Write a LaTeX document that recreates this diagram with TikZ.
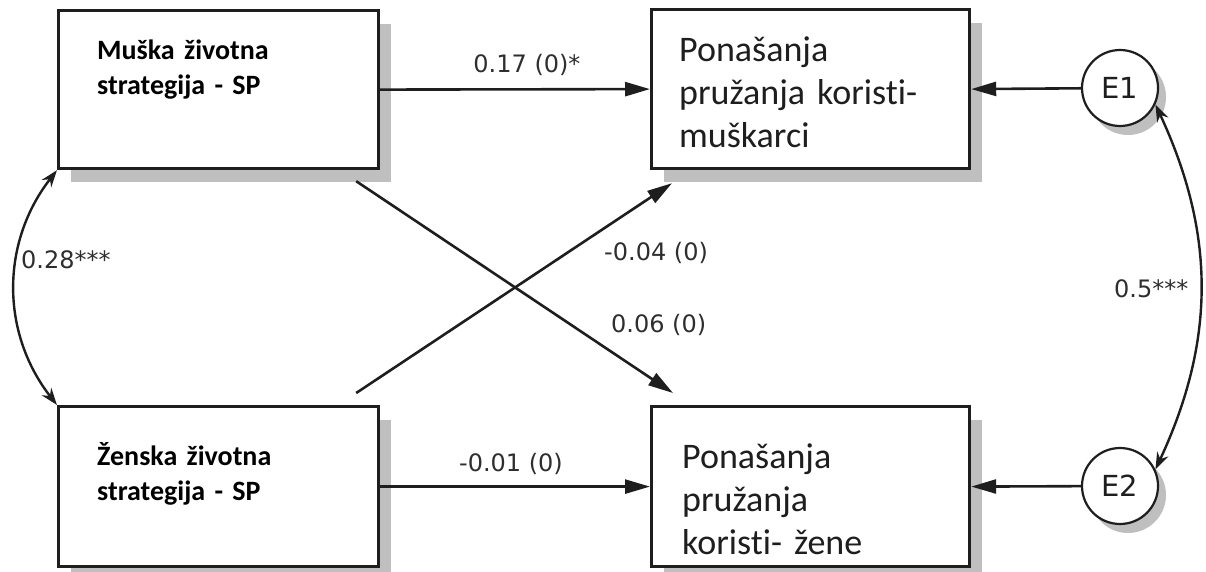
\documentclass[tikz,border=0pt]{standalone}
\usepackage{fontspec}
\setmainfont{Carlito}[Ligatures=NoCommon]
\newfontfamily\lblfont{DejaVu Sans}
\usetikzlibrary{arrows.meta,shadows,calc}
\definecolor{ink}{HTML}{1E1E1E}
\definecolor{lblc}{HTML}{2E2E2E}
\begin{document}
\begin{tikzpicture}[x=1pt,y=-1pt,
  box/.style={draw=ink, line width=3.2pt, fill=white, inner sep=0pt, anchor=north west,
    drop shadow={shadow xshift=12pt, shadow yshift=-13pt, fill=black!25, opacity=1}},
  err/.style={circle, draw=ink, line width=2.2pt, fill=white, minimum size=76pt, inner sep=0pt,
    font=\lblfont\fontsize{29}{32}\selectfont, text=ink,
    drop shadow={shadow xshift=8pt, shadow yshift=-9pt, fill=black!25, opacity=1}},
  srctext/.style={anchor=base west, inner sep=0pt, text width=270pt, align=left, text=black,
    font=\bfseries\fontsize{28}{35}\selectfont},
  dsttext/.style={anchor=base west, inner sep=0pt, text width=285pt, align=left, text=ink,
    font=\fontsize{36}{43}\selectfont},
  lbl/.style={inner sep=0pt, text=lblc, font=\lblfont\fontsize{24}{27}\selectfont},
  arr/.style={draw=ink, line width=2.6pt, -{Triangle[length=25pt,width=14pt]}},
  dbl/.style={draw=ink, line width=2.4pt, {Stealth[length=17pt,width=12pt]}-{Stealth[length=17pt,width=12pt]}}
]
\useasboundingbox (0,0) rectangle (1206,572);

% boxes
\node[box, minimum width=320pt, minimum height=158pt] (A) at (57,9) {};
\node[box, minimum width=318pt, minimum height=159pt] (B) at (650,8) {};
\node[box, minimum width=320pt, minimum height=160pt] (C) at (57,405) {};
\node[box, minimum width=318pt, minimum height=160pt] (D) at (650,405) {};

% box texts
\node[srctext] (tA) at (97,60) {Muška životna\\strategija - SP};
\node[srctext] (tC) at (97,465) {Ženska životna\\strategija - SP};
\node[dsttext] (tB) at (679,62) {Ponašanja\\pružanja koristi-\\muškarci};
\node[dsttext] (tD) at (682,468) {Ponašanja\\pružanja\\koristi- žene};

% error terms
\node[err] (E1) at (1120,88) {E1};
\node[err] (E2) at (1120,486) {E2};

% paths
\draw[arr] (A.east) -- (B.west);
\draw[arr] (C.east) -- (D.west);
\draw[arr] (E1) -- (B.east);
\draw[arr] (E2) -- (D.east);
\draw[arr] ($(A.south east)+(-24,11)$) -- ($(D.north west)+(23,-12)$);
\draw[arr] ($(C.north east)+(-24,-12)$) -- ($(B.south west)+(22,13)$);

% covariances
\draw[dbl] (A.south west) to[bend right=38] (C.north west);
\draw[dbl] (E1.-25) to[bend left=25] (E2.25);

% labels
\node[lbl, anchor=base] (l1) at (527,73) {0.17 (0)*};
\node[lbl, anchor=base] (l2) at (511,471) {-0.01 (0)};
\node[lbl, anchor=base west] (l3) at (604,260) {-0.04 (0)};
\node[lbl, anchor=base west] (l4) at (611,332) {0.06 (0)};
\node[lbl, anchor=base west] (l5) at (21,268) {0.28***};
\node[lbl, anchor=base west] (l6) at (1114,297) {0.5***};
\end{tikzpicture}
\end{document}
